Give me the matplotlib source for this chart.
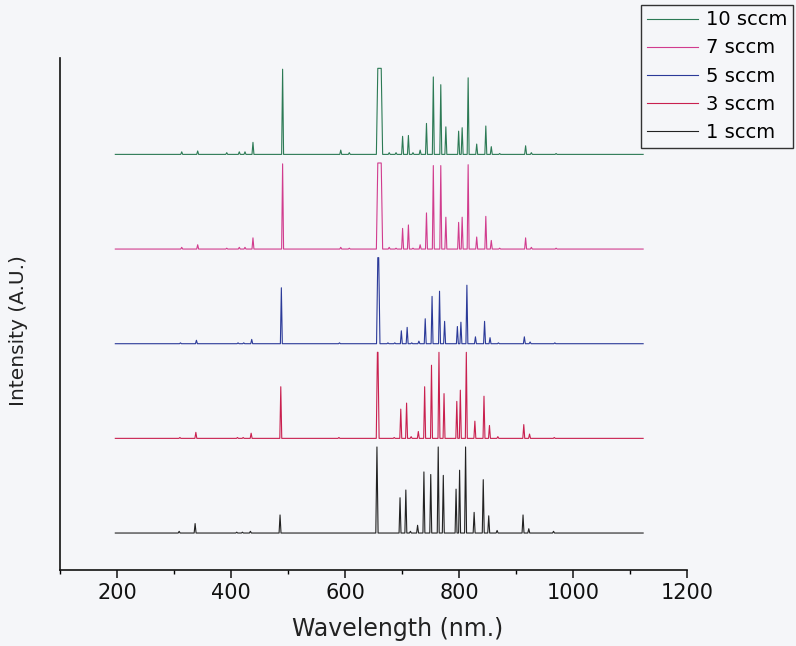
import matplotlib
matplotlib.use('Agg')
import matplotlib.pyplot as plt
from matplotlib.ticker import MultipleLocator

# emission lines (nm) seen in the spectra
lines_nm = [309, 337, 388, 410, 420, 434, 486, 588, 603, 656, 673, 685,
            696.5, 706.7, 714.7, 727.3, 738.4, 750.4, 763.5, 772.4, 794.8,
            801, 811.5, 826.5, 842.5, 852.1, 866.8, 912.3, 922.4, 965.8]

labels = ['1 sccm', '3 sccm', '5 sccm', '7 sccm', '10 sccm']

# peak heights, % of the tallest (clipped) peak
h_1 = [2, 11, 0, 1, 1, 2, 21, 0, 0, 100, 0, 0, 41, 50, 2, 9, 71, 68, 100, 67,
       51, 73, 100, 24, 62, 20, 3, 21, 5, 2]
h_3 = [1, 7, 0, 1, 1, 6, 60, 1, 0, 100, 0, 1, 34, 41, 2, 8, 60, 85, 100, 52,
       43, 56, 100, 20, 49, 15, 2, 16, 5, 1]
h_5 = [1, 4, 0, 1, 1, 5, 65, 1, 0, 100, 1, 1, 15, 19, 1, 3, 29, 55, 61, 26,
       20, 25, 68, 8, 26, 7, 1, 8, 2, 1]
h_7 = [2, 5, 1, 2, 2, 13, 99, 2, 1, 100, 2, 1, 24, 28, 1, 5, 42, 97, 97, 37,
       31, 37, 98, 14, 38, 10, 1, 13, 2, 1]
h_10 = [3, 4, 2, 3, 3, 14, 99, 5, 2, 100, 2, 2, 21, 22, 2, 5, 36, 90, 81, 32,
        27, 31, 89, 12, 33, 9, 1, 10, 2, 1]
heights = [h_1, h_3, h_5, h_7, h_10]

# small wavelength shift of each trace and the width of the H-alpha line
shifts = [0, 1.3, 2.3, 4.5, 4.5]
ha_base = [2.0, 2.5, 3.0, 5.5, 5.5]
ha_top = [0.0, 0.5, 0.8, 3.0, 3.0]

x_start, x_end = 197, 1123
colors = ['#222222', '#c9204f', '#2b3a99', '#d13c8e', '#2c7a55']
bg = '#f5f6f9'


def spectrum(shift, hs, base, top):
    xs = [x_start]
    ys = [0]
    for c, h in zip(lines_nm, hs):
        if h == 0:
            continue
        if c == 656:
            w, tw = base, top
        else:
            w, tw = 1.7, 0
        c = c + shift
        xs += [c - w, c - tw, c + tw, c + w]
        ys += [0, h, h, 0]
    xs.append(x_end)
    ys.append(0)
    return xs, ys


fig = plt.figure(figsize=(7.96, 6.46), dpi=100, facecolor=bg)
ax = fig.add_axes([0.0754, 0.1176, 0.7877, 0.7926])
ax.set_facecolor(bg)

handles = []
for i in range(5):
    xs, ys = spectrum(shifts[i], heights[i], ha_base[i], ha_top[i])
    ln, = ax.plot(xs, [y + 110 * i for y in ys], color=colors[i], lw=0.8,
                  label=labels[i])
    handles.append(ln)

ax.set_xlim(100, 1200)
ax.set_ylim(-43, 552)
ax.xaxis.set_major_locator(MultipleLocator(200))
ax.xaxis.set_minor_locator(MultipleLocator(100))
ax.set_yticks([])
for s in ['top', 'right']:
    ax.spines[s].set_visible(False)
for s in ['left', 'bottom']:
    ax.spines[s].set_linewidth(1.2)
    ax.spines[s].set_color('#111111')
ax.tick_params(axis='x', which='major', length=6, width=1.1, direction='out',
               labelsize=15, pad=3, colors='#111111')
ax.tick_params(axis='x', which='minor', length=3, width=1.0, direction='out')

ax.set_xlabel('Wavelength (nm.)', fontsize=17, color='#222222')
ax.set_ylabel('Intensity (A.U.)', fontsize=14.5, color='#222222')
ax.xaxis.set_label_coords(0.539, -0.092)
ax.yaxis.set_label_coords(-0.051, 0.467)

leg = fig.legend(handles[::-1], labels[::-1], loc='upper right',
                 bbox_to_anchor=(0.996, 0.993), borderaxespad=0,
                 fontsize=14, frameon=True, fancybox=False,
                 edgecolor='#333333', facecolor=bg, framealpha=1,
                 handlelength=2.6, handletextpad=0.4, labelspacing=0.47,
                 borderpad=0.3)
leg.get_frame().set_linewidth(1.0)

fig.savefig('out.png', dpi=100, facecolor=bg)
